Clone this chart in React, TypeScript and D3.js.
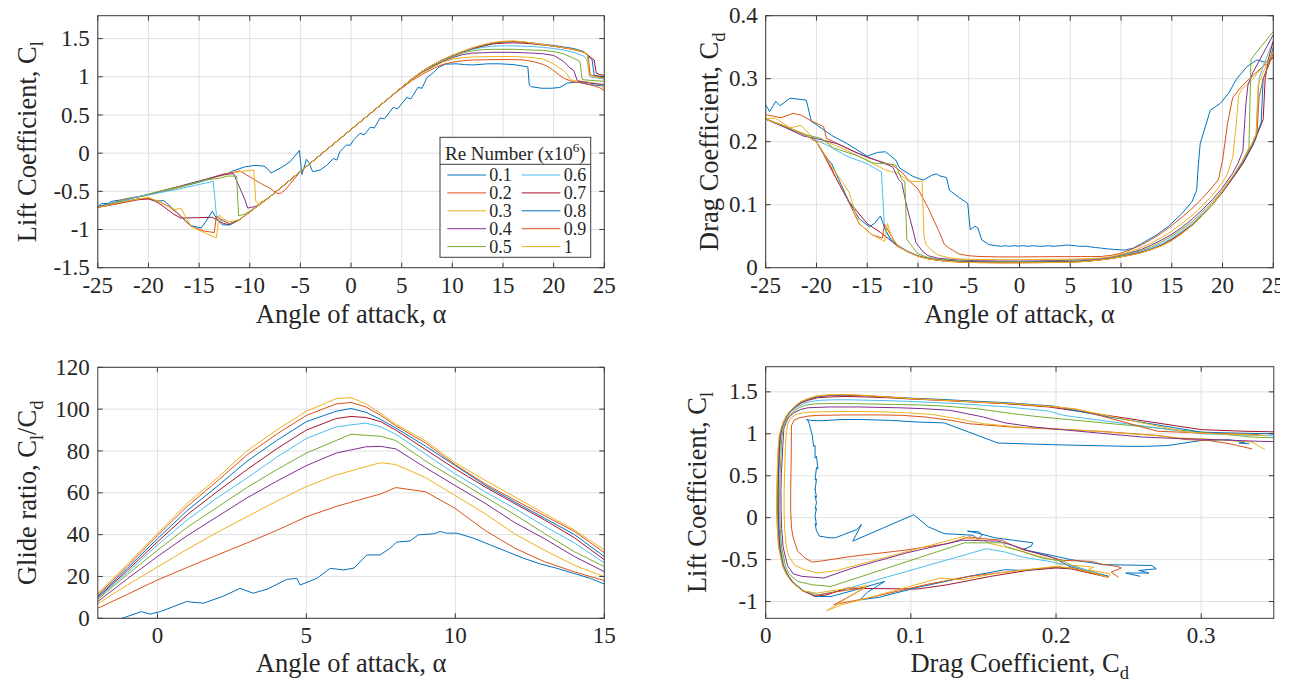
import * as d3 from 'd3';
import { useEffect, useRef } from 'react';

// Reynolds numbers (x10^6) and MATLAB default colour order
const reLabels = ['0.1', '0.2', '0.3', '0.4', '0.5', '0.6', '0.7', '0.8', '0.9', '1'];
const colors = ['#0072BD', '#D95319', '#EDB120', '#7E2F8E', '#77AC30', '#4DBEEE', '#A2142F', '#0072BD', '#D95319', '#EDB120'];

// polar sweeps: [alpha, Cl, Cd] in sweep order
const re01 = [
  [-25, -0.7, 0.258], [-24.6, -0.66, 0.248], [-24, -0.66, 0.264], [-23.6, -0.63, 0.257], [-22.6, -0.61, 0.269],
  [-21, -0.57, 0.266], [-20.5, -0.56, 0.232], [-20, -0.545, 0.227], [-18.5, -0.5, 0.21], [-17, -0.45, 0.197],
  [-15, -0.38, 0.177], [-14, -0.34, 0.183], [-13.2, -0.3, 0.184], [-12.2, -0.27, 0.171], [-11.8, -0.24, 0.158],
  [-10.5, -0.18, 0.145], [-9.5, -0.16, 0.139], [-8.6, -0.17, 0.147], [-8.2, -0.21, 0.149], [-7.9, -0.26, 0.146],
  [-7.2, -0.21, 0.143], [-6.9, -0.19, 0.123], [-6, -0.11, 0.112], [-5.1, 0.035, 0.102], [-4.85, -0.28, 0.06],
  [-4.4, -0.08, 0.066], [-4.1, -0.14, 0.063], [-3.8, -0.24, 0.048], [-3.7, -0.24, 0.044], [-3.06, -0.22, 0.037],
  [-2.4, -0.16, 0.035], [-1.75, -0.07, 0.034], [-1.4, -0.09, 0.035], [-1.1, 0.02, 0.034], [-0.43, 0.11, 0.035],
  [-0.1, 0.1, 0.034], [0.3, 0.18, 0.035], [0.88, 0.26, 0.034], [1.3, 0.24, 0.035], [1.9, 0.34, 0.034],
  [2.3, 0.33, 0.034], [2.86, 0.46, 0.035], [3.3, 0.45, 0.034], [4.17, 0.6, 0.035], [4.6, 0.58, 0.036],
  [5.5, 0.73, 0.035], [5.9, 0.71, 0.034], [6.6, 0.86, 0.034], [7, 0.85, 0.033], [7.5, 0.99, 0.032],
  [8.1, 1.05, 0.031], [8.6, 1.12, 0.03], [9.3, 1.165, 0.029], [10.4, 1.17, 0.028], [11.2, 1.16, 0.031],
  [12, 1.155, 0.038], [13.5, 1.17, 0.052], [14.7, 1.17, 0.066], [16, 1.16, 0.086], [17, 1.14, 0.105],
  [17.45, 1.13, 0.123], [17.6, 0.89, 0.16], [17.8, 0.87, 0.197], [18.8, 0.85, 0.25], [19.8, 0.85, 0.261],
  [20.6, 0.86, 0.277], [21.4, 0.92, 0.3], [22.4, 0.93, 0.319], [23.4, 0.9, 0.33], [24.2, 0.89, 0.326], [25, 0.88, 0.333],
];
const re02 = [
  [25, 0.82, 0.335], [24.5, 0.86, 0.325], [24, 0.88, 0.32], [23, 0.92, 0.305], [22, 0.93, 0.29], [21, 0.98, 0.27],
  [20.5, 1.03, 0.23], [20, 1.08, 0.17], [19.6, 1.12, 0.14], [19, 1.16, 0.128], [18, 1.2, 0.11], [17, 1.22, 0.094],
  [16, 1.225, 0.08], [15, 1.225, 0.067], [14, 1.225, 0.055], [13, 1.222, 0.045], [12, 1.22, 0.036], [11, 1.21, 0.029],
  [10, 1.19, 0.023], [9, 1.16, 0.0195], [8, 1.1, 0.0178], [7, 1.03, 0.0177], [6, 0.95, 0.0177], [5, 0.85, 0.0176],
  [4, 0.75, 0.0176], [2, 0.53, 0.0174], [0, 0.31, 0.0172], [-2, 0.09, 0.0172], [-4, -0.13, 0.0178], [-5, -0.24, 0.019],
  [-6, -0.4, 0.022], [-6.5, -0.48, 0.027], [-7, -0.53, 0.032], [-7.4, -0.52, 0.037], [-8, -0.46, 0.06],
  [-9, -0.39, 0.095], [-10, -0.31, 0.125], [-11, -0.23, 0.14], [-11.5, -0.25, 0.15], [-12.5, -0.27, 0.163],
  [-13, -0.29, 0.165], [-15, -0.37, 0.175], [-17, -0.44, 0.19], [-19, -0.51, 0.205], [-19.3, -0.52, 0.224],
  [-20.5, -0.56, 0.233], [-21.5, -0.58, 0.242], [-22.3, -0.6, 0.245], [-23.5, -0.65, 0.238], [-25, -0.71, 0.243],
];
const re03 = [
  [25, 0.81, 0.344], [24.7, 0.9, 0.335], [24, 0.92, 0.32], [23, 0.94, 0.3], [22, 0.95, 0.285], [21.6, 0.97, 0.275],
  [21.3, 1.04, 0.22], [21, 1.08, 0.175], [20.5, 1.12, 0.15], [20, 1.17, 0.135], [19, 1.23, 0.115], [18, 1.25, 0.098],
  [17, 1.26, 0.083], [16, 1.265, 0.07], [15, 1.265, 0.058], [14, 1.265, 0.048], [13, 1.262, 0.039], [12, 1.26, 0.032],
  [11, 1.25, 0.026], [10, 1.23, 0.021], [9, 1.19, 0.0175], [8, 1.12, 0.0152], [7, 1.05, 0.0145], [6, 0.96, 0.014],
  [5, 0.86, 0.0137], [4, 0.75, 0.0134], [2, 0.53, 0.013], [0, 0.31, 0.0127], [-2, 0.09, 0.0127], [-4, -0.13, 0.013],
  [-6, -0.35, 0.0142], [-7, -0.46, 0.016], [-8, -0.57, 0.02], [-8.6, -0.62, 0.027], [-9.2, -0.66, 0.036],
  [-9.4, -0.63, 0.049], [-9.6, -0.22, 0.137], [-10.9, -0.24, 0.137], [-12, -0.27, 0.15], [-13.2, -0.31, 0.155],
  [-15, -0.37, 0.17], [-17, -0.45, 0.186], [-19, -0.51, 0.2], [-20, -0.55, 0.2], [-21.5, -0.59, 0.226],
  [-22.6, -0.62, 0.222], [-24, -0.67, 0.237], [-25, -0.7, 0.237],
];
const re04 = [
  [25, 0.9, 0.37], [24, 0.91, 0.34], [23, 0.93, 0.31], [22.5, 0.94, 0.29], [22.3, 0.96, 0.26], [22, 1.08, 0.185],
  [21.5, 1.13, 0.165], [21, 1.2, 0.15], [20, 1.28, 0.127], [19, 1.3, 0.108], [18, 1.31, 0.092], [17, 1.315, 0.077],
  [16, 1.32, 0.064], [15, 1.32, 0.053], [14, 1.32, 0.044], [13, 1.315, 0.036], [12, 1.31, 0.029], [11, 1.29, 0.024],
  [10, 1.25, 0.0195], [9, 1.2, 0.016], [8, 1.13, 0.014], [7, 1.06, 0.0125], [6, 0.97, 0.0122], [5, 0.86, 0.0118],
  [4, 0.75, 0.0115], [2, 0.53, 0.0108], [0, 0.31, 0.0105], [-2, 0.09, 0.0106], [-4, -0.13, 0.011], [-6, -0.35, 0.012],
  [-8, -0.57, 0.015], [-9, -0.67, 0.019], [-9.5, -0.7, 0.025], [-10.2, -0.72, 0.04], [-10.5, -0.6, 0.06],
  [-11.1, -0.42, 0.097], [-11.6, -0.27, 0.135], [-11.9, -0.27, 0.14], [-12.5, -0.28, 0.16], [-14, -0.33, 0.17],
  [-16, -0.4, 0.182], [-18, -0.47, 0.197], [-20, -0.54, 0.205], [-21.3, -0.58, 0.209], [-23, -0.64, 0.222], [-25, -0.7, 0.236],
];
const re05 = [
  [25, 0.94, 0.375], [24, 0.95, 0.355], [23, 0.96, 0.335], [22.8, 0.97, 0.33], [22.6, 1.2, 0.19], [22, 1.24, 0.17],
  [21, 1.3, 0.145], [20, 1.33, 0.123], [19, 1.345, 0.104], [18, 1.35, 0.088], [17, 1.355, 0.073], [16, 1.36, 0.061],
  [15, 1.36, 0.05], [14, 1.36, 0.041], [13, 1.355, 0.033], [12, 1.34, 0.027], [11, 1.31, 0.023], [10, 1.26, 0.019],
  [9, 1.21, 0.0155], [8, 1.14, 0.0134], [7, 1.065, 0.0122], [6, 0.97, 0.0112], [5, 0.86, 0.0108], [4, 0.75, 0.0106],
  [2, 0.53, 0.0099], [0, 0.31, 0.0096], [-2, 0.09, 0.0097], [-4, -0.13, 0.01], [-6, -0.35, 0.011], [-8, -0.57, 0.0135],
  [-9, -0.67, 0.016], [-10, -0.76, 0.022], [-10.5, -0.8, 0.032], [-11.1, -0.82, 0.045], [-11.3, -0.3, 0.137],
  [-11.6, -0.3, 0.14], [-12.2, -0.3, 0.163], [-13, -0.33, 0.165], [-14.4, -0.35, 0.166], [-16, -0.41, 0.178],
  [-18.3, -0.48, 0.19], [-19.5, -0.52, 0.205], [-21, -0.57, 0.211], [-23, -0.64, 0.224], [-25, -0.7, 0.236],
];
const re06 = [
  [25, 0.97, 0.36], [24, 0.99, 0.32], [23.6, 1.0, 0.3], [23.3, 1.22, 0.205], [23, 1.27, 0.195], [22, 1.32, 0.167],
  [21, 1.35, 0.142], [20, 1.37, 0.12], [19, 1.385, 0.101], [18, 1.395, 0.085], [17, 1.4, 0.07], [16, 1.405, 0.058],
  [15, 1.405, 0.047], [14, 1.4, 0.038], [13, 1.385, 0.031], [12, 1.36, 0.026], [11, 1.32, 0.022], [10, 1.27, 0.018],
  [9, 1.215, 0.015], [8, 1.145, 0.013], [7, 1.065, 0.0115], [6, 0.97, 0.0106], [5, 0.86, 0.01], [4, 0.75, 0.0097],
  [2, 0.53, 0.0092], [0, 0.31, 0.0089], [-2, 0.09, 0.009], [-4, -0.13, 0.0094], [-6, -0.35, 0.0102], [-8, -0.57, 0.0125],
  [-9, -0.67, 0.015], [-10, -0.77, 0.019], [-11, -0.87, 0.026], [-12, -0.92, 0.036], [-13, -0.87, 0.052],
  [-13.3, -0.8, 0.065], [-13.6, -0.37, 0.152], [-15, -0.41, 0.165], [-17, -0.47, 0.177], [-19, -0.52, 0.195],
  [-21, -0.57, 0.209], [-23, -0.64, 0.224], [-25, -0.7, 0.236],
];
const re07 = [
  [25, 1.02, 0.36], [24.5, 1.03, 0.33], [24.2, 1.05, 0.3], [24, 1.22, 0.235], [23, 1.32, 0.195], [22, 1.36, 0.165],
  [21, 1.38, 0.142], [20, 1.4, 0.12], [19, 1.415, 0.1], [18, 1.43, 0.084], [17, 1.44, 0.068], [16, 1.445, 0.056],
  [15, 1.44, 0.045], [14, 1.43, 0.036], [13, 1.4, 0.0295], [12, 1.37, 0.0248], [11, 1.325, 0.021], [10, 1.275, 0.0175],
  [9, 1.22, 0.0148], [8, 1.15, 0.0128], [7, 1.07, 0.0112], [6, 0.97, 0.0101], [5, 0.86, 0.0096], [4, 0.75, 0.0093],
  [2, 0.53, 0.0088], [0, 0.31, 0.0085], [-2, 0.09, 0.0086], [-4, -0.13, 0.009], [-6, -0.35, 0.0097], [-8, -0.57, 0.012],
  [-9, -0.67, 0.0145], [-10, -0.77, 0.0185], [-11, -0.87, 0.0255], [-12, -0.94, 0.034], [-12.6, -0.92, 0.042],
  [-13.7, -0.84, 0.056], [-15, -0.845, 0.07], [-16.8, -0.85, 0.105], [-17.5, -0.8, 0.125], [-18.5, -0.7, 0.155],
  [-19.3, -0.63, 0.18], [-20, -0.6, 0.2], [-21, -0.61, 0.21], [-23, -0.66, 0.223], [-25, -0.71, 0.236],
];
const re08 = [
  [25, 1.0, 0.35], [24.5, 1.01, 0.32], [24, 1.02, 0.3], [23.8, 1.22, 0.23], [23, 1.33, 0.198], [22, 1.37, 0.167],
  [21, 1.39, 0.143], [20, 1.41, 0.121], [19, 1.425, 0.1], [18, 1.44, 0.083], [17, 1.455, 0.067], [16, 1.46, 0.055],
  [15, 1.455, 0.044], [14, 1.44, 0.0355], [13, 1.41, 0.029], [12, 1.375, 0.0243], [11, 1.33, 0.0205], [10, 1.28, 0.0173],
  [9, 1.22, 0.0146], [8, 1.15, 0.0126], [7, 1.07, 0.011], [6, 0.97, 0.0098], [5, 0.86, 0.0092], [4, 0.75, 0.0088],
  [2, 0.53, 0.0085], [0, 0.31, 0.0082], [-2, 0.09, 0.0082], [-4, -0.13, 0.0086], [-6, -0.35, 0.0094], [-8, -0.57, 0.0118],
  [-9, -0.67, 0.0143], [-10, -0.77, 0.0184], [-11, -0.87, 0.0254], [-12, -0.94, 0.035], [-12.7, -0.94, 0.045],
  [-13.2, -0.87, 0.06], [-13.7, -0.76, 0.082], [-14.3, -0.89, 0.07], [-14.8, -0.98, 0.065], [-15.8, -0.95, 0.078],
  [-16.8, -0.83, 0.105], [-17.8, -0.7, 0.14], [-18.5, -0.62, 0.165], [-19.2, -0.63, 0.178], [-20, -0.59, 0.2],
  [-21, -0.6, 0.21], [-23, -0.65, 0.223], [-25, -0.7, 0.236],
];
const re09 = [
  [25, 0.99, 0.34], [24, 1.01, 0.3], [23.6, 1.03, 0.27], [23.4, 1.29, 0.215], [23, 1.32, 0.2], [22, 1.355, 0.17],
  [21, 1.38, 0.144], [20, 1.4, 0.121], [19, 1.42, 0.1], [18, 1.44, 0.0835], [17, 1.455, 0.0675], [16, 1.465, 0.0545],
  [15, 1.46, 0.0435], [14, 1.445, 0.035], [13, 1.415, 0.029], [12, 1.38, 0.024], [11, 1.33, 0.0202], [10, 1.28, 0.0174],
  [9, 1.22, 0.0145], [8, 1.15, 0.0125], [7, 1.07, 0.0108], [6, 0.97, 0.0095], [5, 0.86, 0.0089], [4, 0.75, 0.0085],
  [2, 0.53, 0.0081], [0, 0.31, 0.0078], [-2, 0.09, 0.0077], [-4, -0.13, 0.0081], [-6, -0.35, 0.009], [-8, -0.57, 0.0117],
  [-9, -0.67, 0.0142], [-10, -0.77, 0.0183], [-11, -0.87, 0.0252], [-12, -0.93, 0.034], [-12.6, -0.88, 0.05],
  [-13.3, -0.83, 0.069], [-13.5, -1.04, 0.047], [-14.5, -1.02, 0.052], [-15.8, -0.96, 0.07], [-17, -0.8, 0.11],
  [-18, -0.7, 0.14], [-19, -0.63, 0.175], [-20, -0.59, 0.2], [-21, -0.6, 0.21], [-23, -0.66, 0.224], [-25, -0.71, 0.236],
];
const re10 = [
  [25, 0.98, 0.345], [24, 1.0, 0.31], [23.5, 1.02, 0.29], [23.3, 1.3, 0.212], [23, 1.32, 0.2], [22, 1.36, 0.17],
  [21, 1.38, 0.145], [20, 1.4, 0.122], [19, 1.42, 0.1], [18, 1.44, 0.083], [17, 1.46, 0.067], [16, 1.47, 0.054],
  [15, 1.465, 0.043], [14, 1.45, 0.0345], [13, 1.42, 0.029], [12, 1.38, 0.0238], [11, 1.33, 0.02], [10, 1.28, 0.0173],
  [9, 1.22, 0.0144], [8, 1.15, 0.0124], [7, 1.07, 0.0106], [6, 0.97, 0.0092], [5, 0.86, 0.0087], [4, 0.75, 0.0084],
  [2, 0.53, 0.0079], [0, 0.31, 0.0077], [-2, 0.09, 0.0076], [-4, -0.13, 0.008], [-6, -0.35, 0.0088], [-8, -0.57, 0.0115],
  [-9, -0.67, 0.014], [-10, -0.77, 0.018], [-11, -0.87, 0.025], [-12, -0.9, 0.035], [-12.6, -0.86, 0.05],
  [-13, -0.81, 0.07], [-13.3, -1.11, 0.042], [-14.5, -1.04, 0.052], [-15.8, -0.96, 0.07], [-16.8, -0.72, 0.12],
  [-17.4, -0.74, 0.135], [-18.5, -0.66, 0.16], [-20, -0.58, 0.2], [-21, -0.6, 0.21], [-23, -0.65, 0.224], [-25, -0.71, 0.236],
];
const polars = [re01, re02, re03, re04, re05, re06, re07, re08, re09, re10];

// glide ratio Cl/Cd
const glideAlpha = [-2, -1, 0, 1, 2, 3, 4, 5, 6, 6.5, 7, 7.5, 8, 9, 10, 11, 12, 13, 14, 15];
const glide02 = [4.8, 11.5, 18.3, 24.3, 30.2, 36, 42, 48.5, 53.5, 55.5, 57.5, 59.5, 62.5, 60.5, 52.5, 42, 33.5, 27, 22.2, 18];
const glide03 = [7, 16, 24.5, 33, 41, 48.5, 56, 63, 68.5, 70.5, 72.5, 74.4, 73.5, 67.3, 58.6, 50, 40.3, 32.5, 25.3, 19.9];
const glide04 = [8, 19, 29.5, 39.5, 48.5, 57.5, 65.5, 73, 79, 80.5, 82, 82.2, 81, 72, 63.4, 55, 45.7, 38, 29.5, 22.3];
const glide05 = [9, 21, 32.5, 43.5, 53, 62.5, 71, 79, 85, 88, 87.5, 87, 85, 75.2, 66.6, 58, 49.5, 40.5, 31.8, 24.7];
const glide06 = [9.5, 22, 35, 47, 57.5, 67, 77, 86, 91.5, 92.5, 93.3, 91.5, 88, 78.5, 69, 60.5, 52.5, 44, 36, 26.5];
const glide07 = [10, 23, 36.5, 49.5, 60.5, 71, 81, 90, 95.5, 96.5, 96, 94, 90, 80.7, 71.4, 62.8, 54.8, 47, 38.5, 28];
const glide08 = [10.5, 24, 38, 51.5, 63, 75, 85, 94, 99, 100.3, 98.5, 95, 91, 82.3, 73, 63.6, 55.6, 47.8, 40, 29.5];
const glide09 = [11.2, 25, 39.5, 53.5, 65.5, 78, 88, 97, 102.5, 103.2, 101, 97, 92, 83.8, 73.4, 64.3, 56.5, 49, 41.5, 31.4];
const glide10 = [12, 26, 40.5, 55, 67, 80, 90, 99, 105, 105.5, 102.5, 98, 92.8, 84.8, 74.3, 66, 58, 50, 42.2, 32.7];
const glide01Alpha = [-2, -1.18, -0.54, -0.25, 0.1, 0.98, 1.54, 2.2, 2.77, 3.22, 3.7, 4.34, 4.68, 4.79, 5.35, 5.8, 6.24, 6.6,
  7.03, 7.47, 7.81, 8.03, 8.48, 8.76, 9.27, 9.49, 9.71, 10.05, 10.61, 11.17, 11.73, 12.29, 12.85, 13.41, 13.97, 14.53, 15];
const glide01 = [-3.5, 0, 3.2, 2, 3.2, 8, 7.2, 10.5, 14.3, 12, 14, 18.6, 19.1, 15.9, 19.1, 23.9, 23.1, 24, 30.3, 30.3,
  33.5, 36.4, 37, 39.9, 40.4, 41.5, 40.7, 40.7, 38.3, 35.1, 31.9, 28.7, 26, 23.9, 21.5, 19.1, 16.4];

// tick values
const alphaTicks = [-25, -20, -15, -10, -5, 0, 5, 10, 15, 20, 25];
const clTicks = [-1.5, -1, -0.5, 0, 0.5, 1, 1.5];
const cdTicks = [0, 0.1, 0.2, 0.3, 0.4];
const glideTicks = [0, 20, 40, 60, 80, 100, 120];
const glideAlphaTicks = [0, 5, 10, 15];
const polarCdTicks = [0, 0.1, 0.2, 0.3];
const polarClTicks = [-1, -0.5, 0, 0.5, 1, 1.5];

const FONT = '"Liberation Serif", "Times New Roman", serif';
const INK = '#262626';
const TICK_FS = 23;
const LABEL_FS = 26.5;

function richText(sel, parts, fs) {
  let shift = 0;
  parts.forEach((p) => {
    const t = sel.append('tspan').text(p.t);
    let target = 0;
    if (p.sub) target = fs * 0.28;
    if (p.sup) target = -fs * 0.42;
    if (target !== shift) t.attr('dy', target - shift);
    shift = target;
    if (p.sub || p.sup) t.attr('font-size', fs * 0.7);
  });
}

function drawPanel(svg, cfg) {
  const { id, left, right, top, bottom, xDomain, yDomain, xTicks, yTicks, series } = cfg;
  const x = d3.scaleLinear().domain(xDomain).range([left, right]);
  const y = d3.scaleLinear().domain(yDomain).range([bottom, top]);
  const g = svg.append('g');

  svg.select('defs').append('clipPath').attr('id', id)
    .append('rect').attr('x', left).attr('y', top).attr('width', right - left).attr('height', bottom - top);

  // grid
  g.selectAll('.gx').data(xTicks).enter().append('line')
    .attr('x1', (d) => x(d)).attr('x2', (d) => x(d)).attr('y1', top).attr('y2', bottom)
    .attr('stroke', '#e1e1e1').attr('stroke-width', 1);
  g.selectAll('.gy').data(yTicks).enter().append('line')
    .attr('y1', (d) => y(d)).attr('y2', (d) => y(d)).attr('x1', left).attr('x2', right)
    .attr('stroke', '#e1e1e1').attr('stroke-width', 1);

  // data lines
  const line = d3.line().x((d) => x(d[0])).y((d) => y(d[1]));
  g.append('g').attr('clip-path', `url(#${id})`)
    .selectAll('path').data(series).enter().append('path')
    .attr('d', (d) => line(d.points))
    .attr('fill', 'none')
    .attr('stroke', (d) => d.color)
    .attr('stroke-width', 1)
    .attr('stroke-linejoin', 'round');

  // box and inward ticks
  g.append('rect').attr('x', left).attr('y', top).attr('width', right - left).attr('height', bottom - top)
    .attr('fill', 'none').attr('stroke', '#3a3a3a').attr('stroke-width', 1);
  const tl = 5;
  xTicks.forEach((v) => {
    g.append('line').attr('x1', x(v)).attr('x2', x(v)).attr('y1', bottom).attr('y2', bottom - tl).attr('stroke', '#3a3a3a');
    g.append('line').attr('x1', x(v)).attr('x2', x(v)).attr('y1', top).attr('y2', top + tl).attr('stroke', '#3a3a3a');
  });
  yTicks.forEach((v) => {
    g.append('line').attr('y1', y(v)).attr('y2', y(v)).attr('x1', left).attr('x2', left + tl).attr('stroke', '#3a3a3a');
    g.append('line').attr('y1', y(v)).attr('y2', y(v)).attr('x1', right).attr('x2', right - tl).attr('stroke', '#3a3a3a');
  });

  // tick labels
  g.selectAll('.tx').data(xTicks).enter().append('text')
    .attr('x', (d) => x(d)).attr('y', bottom + 25)
    .attr('text-anchor', 'middle').attr('font-size', TICK_FS).attr('font-family', FONT).attr('fill', INK)
    .text((d) => String(d));
  g.selectAll('.ty').data(yTicks).enter().append('text')
    .attr('x', left - 8).attr('y', (d) => y(d)).attr('dy', '0.33em')
    .attr('text-anchor', 'end').attr('font-size', TICK_FS).attr('font-family', FONT).attr('fill', INK)
    .text((d) => String(d));

  // axis labels
  const xl = g.append('text').attr('x', (left + right) / 2).attr('y', cfg.xLabelY)
    .attr('text-anchor', 'middle').attr('font-size', LABEL_FS).attr('font-family', FONT).attr('fill', INK);
  richText(xl, cfg.xLabel, LABEL_FS);
  const yl = g.append('text')
    .attr('transform', `translate(${cfg.yLabelX},${(top + bottom) / 2}) rotate(-90)`)
    .attr('text-anchor', 'middle').attr('font-size', LABEL_FS).attr('font-family', FONT).attr('fill', INK);
  richText(yl, cfg.yLabel, LABEL_FS);
}

export default function App() {
  const ref = useRef(null);

  useEffect(() => {
    const svg = d3.select(ref.current);
    svg.selectAll('*').remove();
    svg.append('defs');

    const alphaLabel = [{ t: 'Angle of attack, α' }];
    const clLabel = [{ t: 'Lift Coefficient, C' }, { t: 'l', sub: true }];
    const cdLabel = [{ t: 'Drag Coefficient, C' }, { t: 'd', sub: true }];

    drawPanel(svg, {
      id: 'clip-cl', left: 97.8, right: 604.3, top: 15.7, bottom: 267.7,
      xDomain: [-25, 25], yDomain: [-1.5, 1.8], xTicks: alphaTicks, yTicks: clTicks,
      series: polars.map((p, i) => ({ color: colors[i], points: p.map((d) => [d[0], d[1]]) })),
      xLabel: alphaLabel, xLabelY: 323, yLabel: clLabel, yLabelX: 36,
    });
    drawPanel(svg, {
      id: 'clip-cd', left: 765.7, right: 1273.3, top: 15.7, bottom: 267.7,
      xDomain: [-25, 25], yDomain: [0, 0.4], xTicks: alphaTicks, yTicks: cdTicks,
      series: polars.map((p, i) => ({ color: colors[i], points: p.map((d) => [d[0], d[2]]) })),
      xLabel: alphaLabel, xLabelY: 323, yLabel: cdLabel, yLabelX: 718,
    });

    const glides = [glide02, glide03, glide04, glide05, glide06, glide07, glide08, glide09, glide10];
    const glideSeries = [{ color: colors[0], points: glide01Alpha.map((a, j) => [a, glide01[j]]) }]
      .concat(glides.map((gv, i) => ({ color: colors[i + 1], points: glideAlpha.map((a, j) => [a, gv[j]]) })));
    drawPanel(svg, {
      id: 'clip-gl', left: 97.8, right: 604.3, top: 367.3, bottom: 618.3,
      xDomain: [-2, 15], yDomain: [0, 120], xTicks: glideAlphaTicks, yTicks: glideTicks,
      series: glideSeries,
      xLabel: alphaLabel, xLabelY: 672,
      yLabel: [{ t: 'Glide ratio, C' }, { t: 'l', sub: true }, { t: '/C' }, { t: 'd', sub: true }], yLabelX: 36,
    });
    drawPanel(svg, {
      id: 'clip-pl', left: 765.7, right: 1273.8, top: 366.7, bottom: 618.3,
      xDomain: [0, 0.35], yDomain: [-1.2, 1.8], xTicks: polarCdTicks, yTicks: polarClTicks,
      series: polars.map((p, i) => ({ color: colors[i], points: p.map((d) => [d[2], d[1]]) })),
      xLabel: cdLabel, xLabelY: 672, yLabel: clLabel, yLabelX: 706,
    });

    // legend inside the lift plot
    const lg = svg.append('g');
    lg.append('rect').attr('x', 440).attr('y', 137.3).attr('width', 150.7).attr('height', 120)
      .attr('fill', '#fff').attr('stroke', '#3a3a3a').attr('stroke-width', 1);
    lg.append('line').attr('x1', 440).attr('x2', 590.7).attr('y1', 164.3).attr('y2', 164.3)
      .attr('stroke', '#3a3a3a').attr('stroke-width', 1);
    const title = lg.append('text').attr('x', 515.3).attr('y', 160)
      .attr('text-anchor', 'middle').attr('font-size', 19).attr('font-family', FONT).attr('fill', INK);
    richText(title, [{ t: 'Re Number (x10' }, { t: '6', sup: true }, { t: ')' }], 19);
    reLabels.forEach((lab, i) => {
      const col = i < 5 ? 0 : 1;
      const row = i % 5;
      const yy = 175 + row * 17.9;
      const x1 = col === 0 ? 447.3 : 521.7;
      lg.append('line').attr('x1', x1).attr('x2', x1 + 38.7).attr('y1', yy).attr('y2', yy)
        .attr('stroke', colors[i]).attr('stroke-width', 1);
      lg.append('text').attr('x', x1 + 42).attr('y', yy).attr('dy', '0.33em')
        .attr('font-size', 18).attr('font-family', FONT).attr('fill', INK).text(lab);
    });
  }, []);

  return (
    <svg
      ref={ref}
      width={1280}
      height={684}
      style={{ position: 'absolute', left: 0, top: 0, background: '#fff' }}
    />
  );
}
